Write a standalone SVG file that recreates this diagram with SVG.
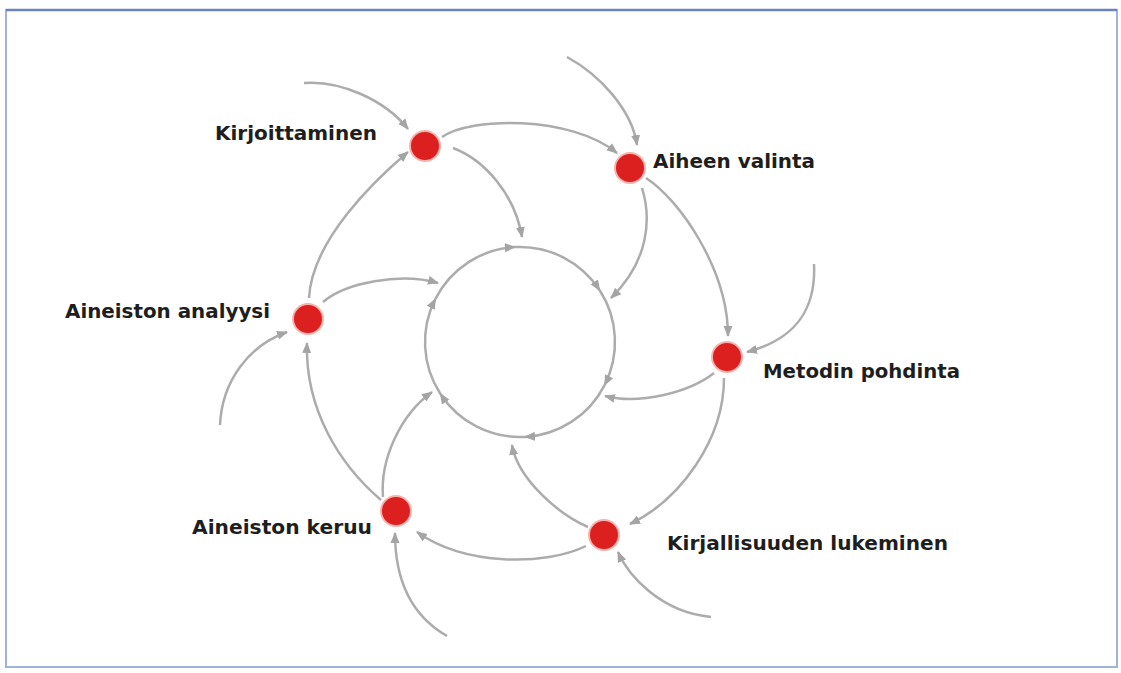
<svg xmlns="http://www.w3.org/2000/svg" width="1121" height="673" viewBox="0 0 1121 673">
  <defs>
    <style>
      .lbl { font-family: "DejaVu Sans", "Liberation Sans", sans-serif; font-weight: bold; font-size: 19px; fill: #1e1e1e; }
      .con { fill: none; stroke: #acacac; stroke-width: 2.5; marker-end: url(#arr); }
      .node { fill: #dc1f1f; stroke: #f7b2ad; stroke-width: 2; }
    </style>
    <marker id="arr" markerUnits="userSpaceOnUse" markerWidth="12" markerHeight="10" refX="10" refY="5" orient="auto">
      <path d="M0,0.5 L11,5 L0,9.5 Z" fill="#a4a4a4"/>
    </marker>
  </defs>
  <rect x="0" y="0" width="1121" height="673" fill="#ffffff"/>
  <rect x="6" y="10" width="1111" height="657" fill="#ffffff" stroke="#9fb2dc" stroke-width="2"/>
  <line x1="6" y1="10" x2="1117" y2="10" stroke="#6b82bd" stroke-width="2.5"/>

  <g id="connectors">
    <!-- outer ring -->
    <path class="con" d="M442,137 C470,117 570,115 617,153"/>
    <path class="con" d="M646,178 C680,200 728,270 728,336"/>
    <path class="con" d="M724,378 C724,440 680,500 630,524"/>
    <path class="con" d="M586,546 C545,566 465,566 417,532"/>
    <path class="con" d="M381,500 C340,465 305,410 307,343"/>
    <path class="con" d="M309,298 C312,240 375,180 408,152"/>
    <!-- spokes to inner circle -->
    <path class="con" d="M453,148 C485,160 515,195 522,237"/>
    <path class="con" d="M642,188 C652,220 648,262 611,298"/>
    <path class="con" d="M714,373 C690,392 640,405 605,396"/>
    <path class="con" d="M588,527 C560,515 518,480 512,445"/>
    <path class="con" d="M383,497 C380,460 400,415 432,392"/>
    <path class="con" d="M323,302 C345,283 400,272 438,283"/>
    <!-- inner circle -->
    <path class="con" d="M435.4,298.9 A95,95 0 0 1 515.0,247.1"/>
    <path class="con" d="M515.0,247.1 A95,95 0 0 1 599.7,290.3"/>
    <path class="con" d="M599.7,290.3 A95,95 0 0 1 604.6,385.1"/>
    <path class="con" d="M604.6,385.1 A95,95 0 0 1 525.0,436.9"/>
    <path class="con" d="M525.0,436.9 A95,95 0 0 1 440.3,393.7"/>
    <path class="con" d="M440.3,393.7 A95,95 0 0 1 435.4,298.9"/>
    <!-- external incoming -->
    <path class="con" d="M304,83 C340,80 385,100 408,129"/>
    <path class="con" d="M567,57 C600,75 632,110 637,145"/>
    <path class="con" d="M814,264 C816,305 800,338 747,352"/>
    <path class="con" d="M711,617 C660,612 628,575 618,552"/>
    <path class="con" d="M447,636 C405,612 395,570 395,533"/>
    <path class="con" d="M220,425 C222,380 250,345 287,332"/>
  </g>

  <g id="kirjoittaminen">
    <circle class="node" cx="425" cy="146" r="15"/>
    <text class="lbl" x="215" y="140" textLength="162" lengthAdjust="spacingAndGlyphs">Kirjoittaminen</text>
  </g>
  <g id="aiheen-valinta">
    <circle class="node" cx="630" cy="168" r="15"/>
    <text class="lbl" x="653" y="168" textLength="162" lengthAdjust="spacingAndGlyphs">Aiheen valinta</text>
  </g>
  <g id="metodin-pohdinta">
    <circle class="node" cx="727" cy="357" r="15"/>
    <text class="lbl" x="763" y="378" textLength="197" lengthAdjust="spacingAndGlyphs">Metodin pohdinta</text>
  </g>
  <g id="kirjallisuuden-lukeminen">
    <circle class="node" cx="604" cy="535" r="15"/>
    <text class="lbl" x="667" y="550" textLength="281" lengthAdjust="spacingAndGlyphs">Kirjallisuuden lukeminen</text>
  </g>
  <g id="aineiston-keruu">
    <circle class="node" cx="396" cy="511" r="15"/>
    <text class="lbl" x="192" y="534" textLength="180" lengthAdjust="spacingAndGlyphs">Aineiston keruu</text>
  </g>
  <g id="aineiston-analyysi">
    <circle class="node" cx="308" cy="319" r="15"/>
    <text class="lbl" x="65" y="318" textLength="205" lengthAdjust="spacingAndGlyphs">Aineiston analyysi</text>
  </g>
</svg>
